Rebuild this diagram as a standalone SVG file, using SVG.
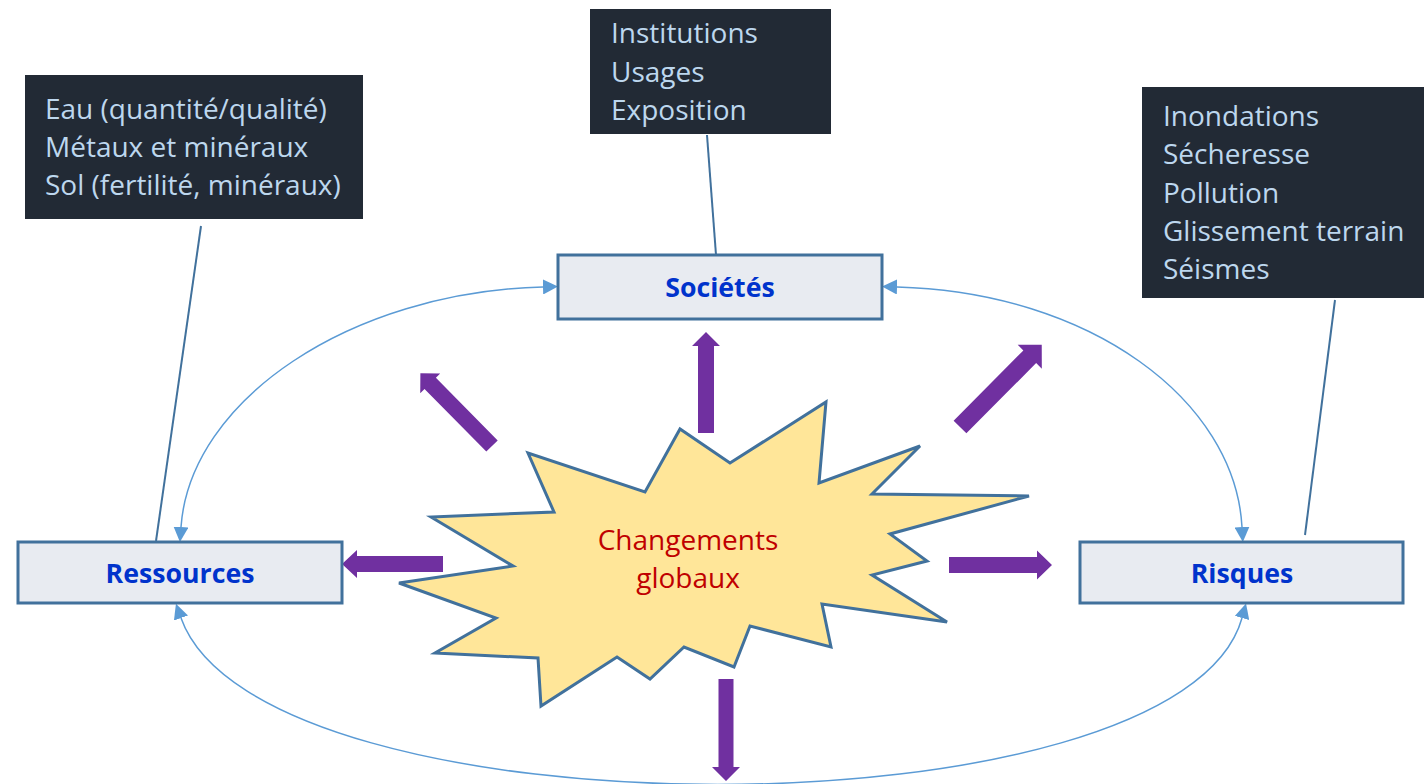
<svg xmlns="http://www.w3.org/2000/svg" width="1424" height="784" viewBox="0 0 1424 784">
<style>
.dark{fill:#222A35}
.dtxt{font-family:"Open Sans",Lato,sans-serif;font-size:28px;fill:#BDD7EE}
.box{fill:#E8EBF1;stroke:#41719C;stroke-width:3}
.lbl{font-family:"Open Sans",Lato,sans-serif;font-size:26.7px;font-weight:bold;fill:#0033CC;text-anchor:middle}
.arr{fill:#7030A0}
.link{fill:none;stroke:#41719C;stroke-width:2}
.curve{fill:none;stroke:#5B9BD5;stroke-width:1.5;marker-start:url(#ah);marker-end:url(#ah)}
</style>
<defs>
<marker id="ah" viewBox="0 0 10 10" refX="0" refY="5" markerWidth="10" markerHeight="10" markerUnits="strokeWidth" orient="auto-start-reverse">
<path d="M0,0 L10,5 L0,10 z" fill="#5B9BD5"/>
</marker>
</defs>
<rect width="1424" height="784" fill="#FFFFFF"/>

<g id="connectors">
<path class="curve" d="M543,287 C350,292 190,400 181,527"/>
<path class="curve" d="M897,287 C1090,292 1235,400 1242,527"/>
<path class="curve" d="M181,618 C260,840 1180,840 1242,618"/>
<line class="link" x1="201" y1="226" x2="156" y2="541"/>
<line class="link" x1="707" y1="135" x2="716" y2="255"/>
<line class="link" x1="1335" y1="300" x2="1305" y2="535"/>
<g id="arrows">
<polygon class="arr" transform="translate(706,433) rotate(-90)" points="0,-8 87,-8 87,-14 101,0 87,14 87,8 0,8"/>
<polygon class="arr" transform="translate(726,679) rotate(90)" points="0,-7.5 88,-7.5 88,-14 102,0 88,14 88,7.5 0,7.5"/>
<polygon class="arr" transform="translate(443,564) rotate(180)" points="0,-8 86,-8 86,-14 101,0 86,14 86,8 0,8"/>
<polygon class="arr" transform="translate(949,565)" points="0,-8 88,-8 88,-14.5 103,0 88,14.5 88,8 0,8"/>
<polygon class="arr" transform="translate(492,446) rotate(-134.6)" points="0,-8 88,-8 88,-14 102,0 88,14 88,8 0,8"/>
<polygon class="arr" transform="translate(960,427) rotate(-45.2)" points="0,-9 99,-9 99,-17 116,0 99,17 99,9 0,9"/>
</g>
</g>

<g id="star">
<polygon points="431,517 513,566 399,583 496,618 435,653 538,658 541,706 617,657 650,679 684,647 734,667 750,626 831,647 822,604 947,622 872,575 927,561 890,534 1029,496 872,494 920,446 819,483 826,402 730,463 680,429 645,492 528,453 554,512" fill="#FFE699" stroke="#41719C" stroke-width="3" stroke-linejoin="miter"/>
<text font-family="'Open Sans',Lato,sans-serif" font-size="28" fill="#C00000" text-anchor="middle"><tspan x="688" y="550">Changements</tspan><tspan x="688" y="588">globaux</tspan></text>
</g>

<g id="ressources-details">
<rect class="dark" x="25" y="75" width="338" height="144"/>
<text class="dtxt"><tspan x="45" y="119">Eau (quantité/qualité)</tspan><tspan x="45" y="157">Métaux et minéraux</tspan><tspan x="45" y="195">Sol (fertilité, minéraux)</tspan></text>
</g>

<g id="societes-details">
<rect class="dark" x="590" y="9" width="241" height="125"/>
<text class="dtxt"><tspan x="611" y="43">Institutions</tspan><tspan x="611" y="82">Usages</tspan><tspan x="611" y="120">Exposition</tspan></text>
</g>

<g id="risques-details">
<rect class="dark" x="1142" y="87" width="282" height="211"/>
<text class="dtxt"><tspan x="1163" y="126">Inondations</tspan><tspan x="1163" y="164">Sécheresse</tspan><tspan x="1163" y="203">Pollution</tspan><tspan x="1163" y="241">Glissement terrain</tspan><tspan x="1163" y="279">Séismes</tspan></text>
</g>

<g id="societes">
<rect class="box" x="558" y="255" width="324" height="64"/>
<text class="lbl" x="720" y="297">Sociétés</text>
</g>

<g id="ressources">
<rect class="box" x="18" y="542" width="324" height="61"/>
<text class="lbl" x="180" y="583">Ressources</text>
</g>

<g id="risques">
<rect class="box" x="1080" y="542" width="323" height="61"/>
<text class="lbl" x="1242" y="583">Risques</text>
</g>
</svg>
